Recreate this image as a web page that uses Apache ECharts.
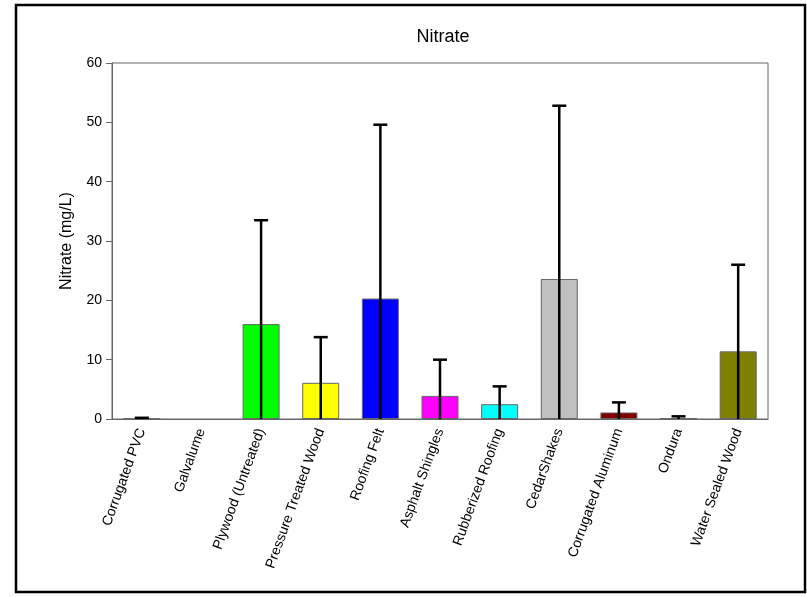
<!DOCTYPE html>
<html>
<head>
<meta charset="utf-8">
<script src="https://cdn.jsdelivr.net/npm/echarts@6/dist/echarts.min.js"></script>
<style>
  html, body { margin: 0; padding: 0; background: #fff; }
  #chart { width: 807px; height: 597px; }
</style>
</head>
<body>
<div id="chart"></div>
<script>
  // data
  var categories = ['Corrugated PVC', 'Galvalume', 'Plywood (Untreated)', 'Pressure Treated Wood',
    'Roofing Felt', 'Asphalt Shingles', 'Rubberized Roofing', 'CedarShakes',
    'Corrugated Aluminum', 'Ondura', 'Water Sealed Wood'];
  var means = [0.05, 0, 16, 6.1, 20.3, 3.9, 2.5, 23.6, 1.1, 0.1, 11.4];
  var upper = [0.2, null, 33.5, 13.8, 49.6, 10, 5.5, 52.8, 2.8, 0.45, 26];
  var barColors = ['#000000', '#ff0000', '#00ff00', '#ffff00', '#0000ff', '#ff00ff',
    '#00ffff', '#c0c0c0', '#800000', '#008000', '#808000'];
  var yTicks = [0, 10, 20, 30, 40, 50, 60];

  var font = 'Liberation Sans, Arial, sans-serif';

  var errData = [];
  for (var i = 0; i < categories.length; i++) {
    if (upper[i] != null) errData.push([i, 0, upper[i]]);
  }

  var option = {
    animation: false,
    title: {
      text: 'Nitrate',
      left: 438,
      top: 23,
      textAlign: 'center',
      textStyle: { fontFamily: font, fontSize: 18, fontWeight: 'normal', color: '#000' }
    },
    graphic: [{
      type: 'rect',
      shape: { x: 16, y: 5, width: 789, height: 587 },
      style: { fill: 'none', stroke: '#000', lineWidth: 2.5 },
      silent: true
    }],
    grid: {
      left: 112, right: 39, top: 63, bottom: 178,
      show: true, borderColor: '#666', borderWidth: 1
    },
    xAxis: {
      type: 'category',
      data: categories,
      axisLine: { lineStyle: { color: '#666', width: 1 } },
      axisTick: { alignWithLabel: true, length: 5, lineStyle: { color: '#666' } },
      axisLabel: {
        rotate: 70, interval: 0, margin: 10,
        fontFamily: font, fontSize: 14, color: '#000'
      }
    },
    yAxis: {
      type: 'value',
      min: yTicks[0],
      max: yTicks[yTicks.length - 1],
      interval: 10,
      name: 'Nitrate (mg/L)',
      nameLocation: 'middle',
      nameGap: 37,
      nameTextStyle: { fontFamily: font, fontSize: 16, color: '#000' },
      axisLine: { show: true, lineStyle: { color: '#666', width: 1 } },
      axisTick: { show: true, length: 6, lineStyle: { color: '#666' } },
      axisLabel: { fontFamily: font, fontSize: 14, color: '#000', margin: 10 },
      splitLine: { show: false }
    },
    series: [{
      type: 'bar',
      barWidth: 37,
      data: means.map(function (v, i) {
        return {
          value: v,
          itemStyle: { color: barColors[i], borderColor: '#666', borderWidth: v > 0 ? 1 : 0 }
        };
      })
    }, {
      type: 'custom',
      data: errData,
      z: 10,
      renderItem: function (params, api) {
        var base = api.coord([api.value(0), api.value(1)]);
        var top = api.coord([api.value(0), api.value(2)]);
        var half = 7;
        return {
          type: 'group',
          children: [{
            type: 'line',
            shape: { x1: base[0], y1: base[1], x2: top[0], y2: top[1] },
            style: { stroke: '#000', lineWidth: 2.5 }
          }, {
            type: 'line',
            shape: { x1: top[0] - half, y1: top[1], x2: top[0] + half, y2: top[1] },
            style: { stroke: '#000', lineWidth: 2.5 }
          }]
        };
      }
    }]
  };

  echarts.init(document.getElementById('chart')).setOption(option);
</script>
</body>
</html>
